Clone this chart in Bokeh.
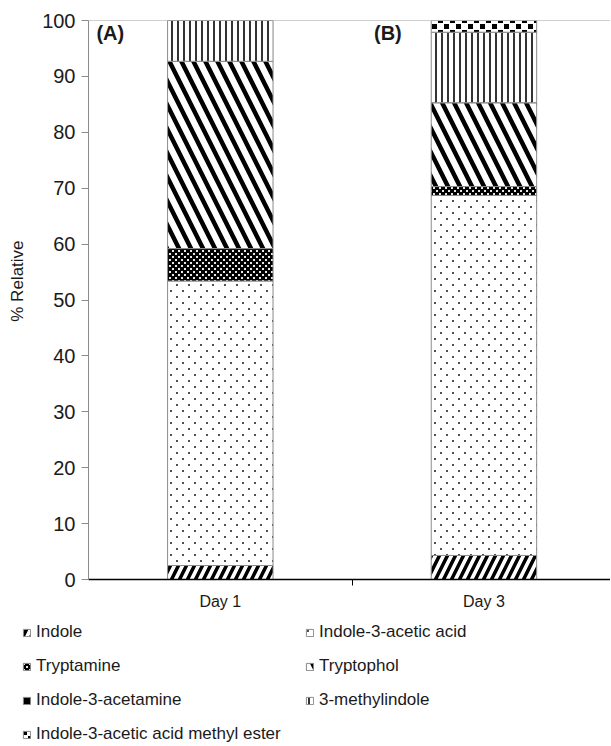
import zlib, struct, base64
from bokeh.plotting import figure
from bokeh.layouts import column
from bokeh.models import ColumnDataSource, Range1d, FixedTicker, Span, Label, ImageURLTexture
from bokeh.core.properties import value
from bokeh.embed import file_html
from bokeh.resources import INLINE

# ---- data ----
days = ["Day 1", "Day 3"]
compounds = ["Indole", "Indole-3-acetic acid", "Tryptamine", "Tryptophol",
             "Indole-3-acetamine", "3-methylindole", "Indole-3-acetic acid methyl ester"]
indole = [2.5, 4.3]
iaa = [50.9, 64.4]
tryptamine = [5.8, 1.6]
tryptophol = [33.5, 15.0]
acetamine = [0.0, 0.0]
methylindole = [7.3, 12.6]
methyl_ester = [0.0, 2.1]
y_ticks = list(range(0, 101, 10))
panel_labels = ["(A)", "(B)"]

keys = ["indole", "iaa", "tryptamine", "tryptophol", "acetamine", "methylindole", "methyl_ester"]
xs = [i + 0.5 for i in range(len(days))]
source = ColumnDataSource(dict(x=xs, day=days, indole=indole, iaa=iaa, tryptamine=tryptamine,
                               tryptophol=tryptophol, acetamine=acetamine,
                               methylindole=methylindole, methyl_ester=methyl_ester))

FONT = "Liberation Sans"
TXT = "#1a1a1a"


def png_url(size, spots, color):
    """Tiny RGBA tile (transparent) with square spots of the given colour."""
    px = [[(0, 0, 0, 0)] * size for _ in range(size)]
    for (sx, sy, sw) in spots:
        for yy in range(sy, sy + sw):
            for xx in range(sx, sx + sw):
                px[yy % size][xx % size] = color
    raw = b"".join(b"\x00" + bytes(c for p_ in row for c in p_) for row in px)

    def chunk(t, d):
        return struct.pack(">I", len(d)) + t + d + struct.pack(">I", zlib.crc32(t + d) & 0xffffffff)
    png = (b"\x89PNG\r\n\x1a\n" + chunk(b"IHDR", struct.pack(">IIBBBBB", size, size, 8, 6, 0, 0, 0))
           + chunk(b"IDAT", zlib.compress(raw)) + chunk(b"IEND", b""))
    return "data:image/png;base64," + base64.b64encode(png).decode()


dots = ImageURLTexture(url=png_url(12, [(2, 2, 2), (8, 8, 2)], (80, 80, 80, 255)))
fine_dots = ImageURLTexture(url=png_url(6, [(1, 1, 2), (4, 4, 2)], (255, 255, 255, 230)))
checker = ImageURLTexture(url=png_url(12, [(0, 0, 5), (6, 6, 5)], (0, 0, 0, 255)))
extra = {"dots": dots, "finedots": fine_dots, "checker": checker}

style = dict(
    fill_color=["white", "white", "black", "white", "black", "white", "white"],
    hatch_pattern=["/", value("dots"), value("finedots"), "\\", None, "|", value("checker")],
    hatch_color=["black", "#3a3a3a", "white", "black", "black", "black", "black"],
    hatch_scale=[16, 12, 6, 24, 12, 6, 12],
    hatch_weight=[3.5, 1, 1, 4.5, 1, 1.6, 1],
    hatch_extra=extra, line_color="#8a8a8a", line_width=1,
)

p = figure(width=610, height=616, output_backend="svg", toolbar_location=None,
           x_range=Range1d(0, 1.98), y_range=Range1d(0, 100),
           min_border_left=88, min_border_right=0, min_border_top=20, min_border_bottom=37)
p.outline_line_color = None
p.xgrid.visible = False
p.ygrid.visible = False

p.vbar_stack(keys, x="x", width=0.4, source=source, **style)

# top line
p.add_layout(Span(location=y_ticks[-1], dimension="width", line_color="#a0a0a0", line_width=1))

# y axis
yax = p.yaxis[0]
yax.ticker = FixedTicker(ticks=y_ticks)
yax.major_tick_out = 7
yax.major_tick_in = 0
yax.minor_tick_out = 0
yax.minor_tick_in = 0
yax.axis_line_color = "#8c8c8c"
yax.major_tick_line_color = "#8c8c8c"
yax.major_label_text_font = FONT
yax.major_label_text_font_size = "20px"
yax.major_label_text_color = TXT
yax.major_label_standoff = 6
yax.axis_label = "\u00a0" * 8 + "% Relative"
yax.axis_label_text_font = FONT
yax.axis_label_text_font_size = "17px"
yax.axis_label_text_font_style = "normal"
yax.axis_label_text_color = TXT
yax.axis_label_standoff = 12

# x axis
xax = p.xaxis[0]
dividers = [(xs[i] + xs[i + 1]) / 2 for i in range(len(xs) - 1)]
xax.ticker = FixedTicker(ticks=xs, minor_ticks=dividers)
xax.major_label_overrides = {x: d for x, d in zip(xs, days)}
xax.major_tick_out = 0
xax.major_tick_in = 0
xax.minor_tick_out = 6
xax.minor_tick_in = 0
xax.minor_tick_line_color = "black"
xax.axis_line_color = "black"
xax.axis_line_width = 1.5
xax.major_label_text_font = FONT
xax.major_label_text_font_size = "16px"
xax.major_label_text_color = TXT
xax.major_label_standoff = 7

# panel labels
for lab, x in zip(panel_labels, [xs[0] - 0.47, xs[1] - 0.417]):
    p.add_layout(Label(x=x, y=y_ticks[-1] - 0.35, text=lab, text_font=FONT, text_font_size="20px",
                       text_font_style="bold", text_baseline="top", text_color=TXT))

# ---- legend panel (separate figure below; its bars lie far outside its view) ----
q = figure(width=610, height=128, output_backend="svg", toolbar_location=None,
           x_axis_type=None, y_axis_type=None, min_border=0,
           x_range=Range1d(10, 11), y_range=Range1d(1000, 1100))
q.frame_align = False
q.outline_line_color = None
q.xgrid.visible = False
q.ygrid.visible = False
q.vbar_stack(keys, x="x", width=0.4, source=source, legend_label=compounds, **style)

lg = q.legend[0]
lg.orientation = "horizontal"
lg.ncols = 2
lg.location = (22, 0)
lg.border_line_color = None
lg.background_fill_alpha = 0
lg.padding = 0
lg.margin = 0
lg.glyph_width = 9
lg.glyph_height = 9
lg.label_standoff = 5
lg.label_height = 20
lg.label_width = 255
lg.spacing = 14
lg.label_text_font = FONT
lg.label_text_font_size = "17px"
lg.label_text_color = TXT

open("out.html", "w").write(file_html(column(p, q, spacing=0), INLINE))
